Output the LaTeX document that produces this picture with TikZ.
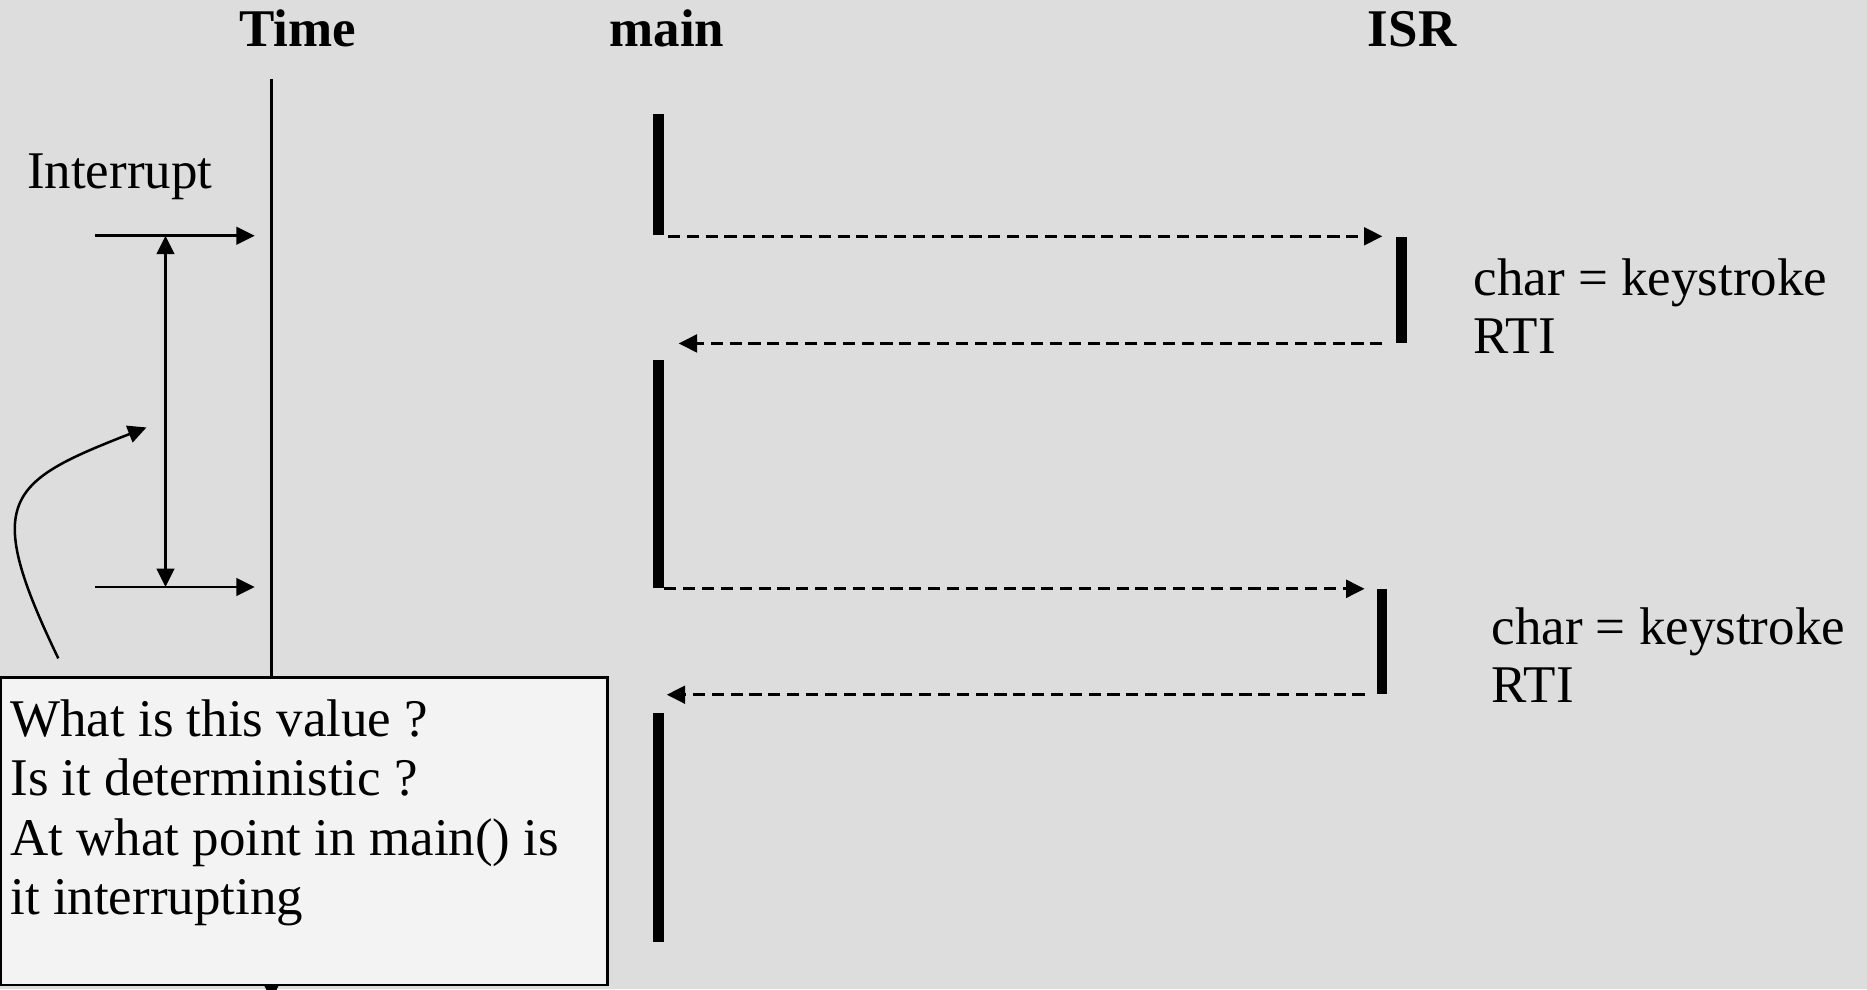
\documentclass[tikz,border=0pt]{standalone}
\usepackage{fontspec}
\setmainfont{Liberation Serif}
\usepackage{tikz}
\usetikzlibrary{positioning, arrows.meta}
\definecolor{slidegray}{HTML}{DDDDDD}
\definecolor{boxgray}{HTML}{F3F3F3}
\newcommand{\slidefont}{\fontsize{12.65pt}{14.2pt}\selectfont}
\tikzset{
    >={Triangle[length=4.4pt, width=4.2pt]},              % Solid triangle arrow heads
    every node/.style={font=\slidefont, inner sep=0pt},   % Times-like text everywhere
    head/.style={font=\slidefont\bfseries, anchor=base},  % Column headings
    note/.style={anchor=base west},                       % Plain text next to things
    bar/.style={fill=black, minimum width=0.085cm, anchor=north}, % Activity bars
    axis/.style={line width=0.6pt},                       % Thin solid lines
    call/.style={->, line width=0.8pt, dash pattern=on 2.9pt off 1.6pt}, % Dashed calls
    qbox/.style={draw, fill=boxgray, line width=0.65pt, minimum width=5.1cm,
                 minimum height=2.58cm, anchor=north west} % Question box
}

\begin{document}
\begin{tikzpicture}[x=0.01cm, y=-0.01cm]
            % Background
            \fill[slidegray] (0,0) rectangle (1568,831);
            \useasboundingbox (0,0) rectangle (1568,831);

            % Define nodes
            \node [head] (hTime) at (250,39) {Time};
            \node [head] (hMain) at (560,39) {main};
            \node [head] (hIsr) at (1186,39) {ISR};
            \node [note] (intr) at (22,158) {Interrupt};

            \node [bar, minimum height=1.02cm] (m1) at (553,95) {};
            \node [bar, minimum height=1.91cm] (m2) at (553,302) {};
            \node [bar, minimum height=1.92cm] (m3) at (553,598) {};
            \node [bar, minimum height=0.89cm] (i1) at (1177,198) {};
            \node [bar, minimum height=0.88cm] (i2) at (1161,494) {};

            \node [note] (k1) at (1237,248) {char = keystroke};
            \node [note, below=0.49cm of k1.base west, anchor=base west] (r1) {RTI};
            \node [note] (k2) at (1252,541) {char = keystroke};
            \node [note, below=0.49cm of k2.base west, anchor=base west] (r2) {RTI};

            \coordinate (tTop) at (228,66);
            \coordinate (tEnd) at (228,840);
            \coordinate (a1) at (80,198);
            \coordinate (b1) at (214,198);
            \coordinate (a2) at (80,493);
            \coordinate (b2) at (214,493);
            \coordinate (gTop) at (139,198);
            \coordinate (gBot) at (139,493);
            \coordinate (cStart) at (49,553);
            \coordinate (cEnd) at (123,359);

            % Draw time line and interrupt marks
            \draw[axis, ->] (tTop) -- (tEnd);
            \draw[axis, ->] (a1) -- (b1);
            \draw[axis, ->] (a2) -- (b2);
            \draw[axis, <->] (gTop) -- (gBot);
            \draw[axis, ->] (cStart) .. controls (-15,420) and (5,405) .. (cEnd);

            % Draw calls and returns
            \draw[call, shorten <=0.03cm, shorten >=0.11cm] (m1.south east) -- (m1.south east -| i1.west);
            \draw[call, shorten <=0.11cm, shorten >=0.12cm] (i1.south west) -- (i1.south west -| m2.east);
            \draw[call, shorten >=0.10cm] (m2.south east) -- (m2.south east -| i2.west);
            \draw[call, shorten <=0.10cm, shorten >=0.02cm] (i2.south west) -- (i2.south west -| m3.east);

            % Question box
            \node [qbox] (q) at (-1,568) {};
            \node [anchor=north west, align=left] (qText) at (8,587)
                {What is this value ?\\Is it deterministic ?\\At what point in main() is\\it interrupting};
        \end{tikzpicture}
\end{document}
